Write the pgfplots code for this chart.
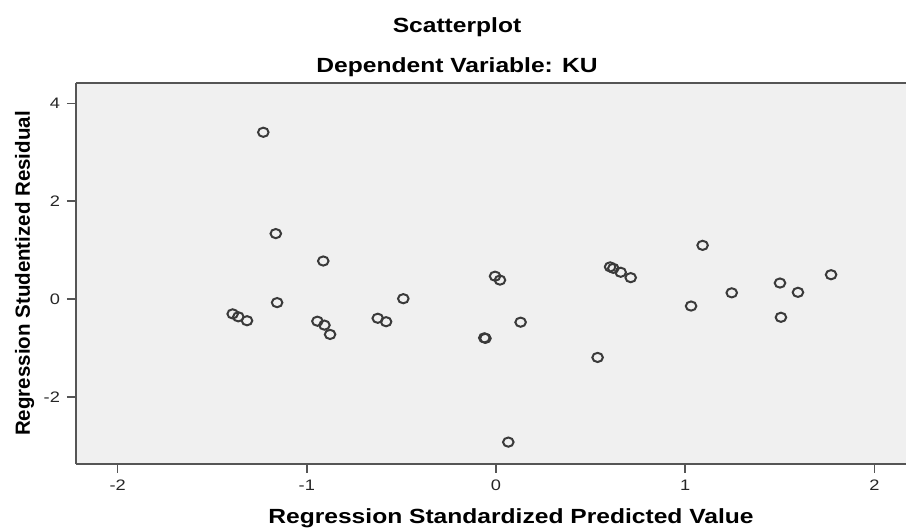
\documentclass[border=0pt]{standalone}
\usepackage{fontspec}
\setmainfont[FakeStretch=1.2]{Liberation Sans}
\newfontfamily\plainfont{Liberation Sans}
\usepackage{pgfplots}
\pgfplotsset{compat=1.18}
\definecolor{bggray}{HTML}{F0F0F0}
\definecolor{axisgray}{HTML}{555555}
\definecolor{markgray}{HTML}{3A3A3A}
\begin{document}
\begin{tikzpicture}
\path[use as bounding box] (-38pt,-32.5pt) rectangle (415pt,232pt);
\begin{axis}[
  at={(0,0)}, anchor=south west,
  scale only axis, width=415pt, height=190.5pt,
  xmin=-2.22, xmax=2.167, ymin=-3.367, ymax=4.417,
  axis lines*=left,
  axis line style={axisgray, line width=1pt},
  axis background/.style={fill=bggray},
  xtick={-2,-1,0,1,2}, ytick={-2,0,2,4},
  tick align=outside, major tick length=4.5pt,
  tick style={axisgray, line width=0.8pt},
  /pgf/number format/assume math mode=true,
  ticklabel style={font=\fontsize{7.6}{8}\selectfont, text=black!85},
  clip=false,
]
\addplot[only marks, mark=o, mark size=2.3pt,
  mark options={xscale=1.15, line width=1pt, draw=markgray}]
  coordinates {
  (-1.392,-0.30) (-1.362,-0.36) (-1.316,-0.44) (-1.230,3.41)
  (-1.164,1.34) (-1.157,-0.07) (-0.913,0.78) (-0.944,-0.45)
  (-0.907,-0.53) (-0.877,-0.72) (-0.625,-0.39) (-0.581,-0.46)
  (-0.490,0.01) (-0.005,0.47) (0.021,0.39) (-0.062,-0.79)
  (-0.056,-0.80) (0.130,-0.47) (0.065,-2.92) (0.537,-1.19)
  (0.603,0.66) (0.620,0.63) (0.659,0.55) (0.712,0.44)
  (1.031,-0.14) (1.092,1.10) (1.246,0.13) (1.501,0.33)
  (1.506,-0.37) (1.596,0.14) (1.771,0.50)
  };
\draw[axisgray, line width=1pt] (rel axis cs:0,1) -- (rel axis cs:1,1);
\end{axis}
\node[anchor=base, font=\bfseries\fontsize{10.25}{12}\selectfont] at (190.5pt,215.5pt) {Scatterplot};
\node[anchor=base, font=\bfseries\fontsize{10.25}{12}\selectfont] at (190.5pt,195.5pt) {Dependent Variable: KU};
\node[anchor=base, font=\bfseries\fontsize{10.25}{12}\selectfont] at (217.5pt,-30pt) {Regression Standardized Predicted Value};
\node[anchor=base, rotate=90, font=\plainfont\bfseries\fontsize{10.25}{12}\selectfont] at (-23pt,95.25pt) {Regression Studentized Residual};
\end{tikzpicture}
\end{document}
